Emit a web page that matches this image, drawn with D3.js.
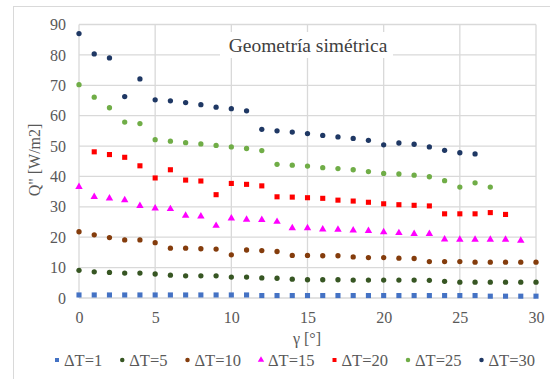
<!DOCTYPE html>
<html>
<head>
<meta charset="utf-8">
<script src="https://cdn.jsdelivr.net/npm/d3@7"></script>
<style>
  html, body { margin: 0; padding: 0; background: #fff; }
  svg { display: block; }
</style>
</head>
<body style="font-family: 'Times New Roman'">
<div id="chart" style="font-family: 'Times New Roman'"></div>
<script>
// γ [°] values (x positions)
const gamma = [0, 1, 2, 3, 4, 5, 6, 7, 8, 9, 10, 11, 12, 13, 14, 15, 16, 17, 18, 19, 20, 21, 22, 23, 24, 25, 26, 27, 28, 29, 30]

// Q" [W/m2] per ΔT, index = γ
const dt1 = [1.0, 1.0, 1.0, 1.0, 1.0, 1.0, 1.0, 1.0, 1.0, 1.0, 1.0, 1.0, 0.8, 0.8, 0.8, 0.8, 0.8, 0.8, 0.8, 0.8, 0.8, 0.8, 0.8, 0.8, 0.8, 0.8, 0.8, 0.6, 0.6, 0.6, 0.6]
const dt5 = [9.1, 8.6, 8.4, 8.2, 8.2, 7.9, 7.5, 7.3, 7.3, 7.3, 6.9, 6.9, 6.6, 6.5, 6.2, 6.0, 6.0, 6.0, 5.9, 5.9, 5.9, 5.9, 5.9, 5.8, 5.5, 5.2, 5.2, 5.2, 5.2, 5.2, 5.2]
const dt10 = [21.8, 20.8, 19.9, 19.1, 19.1, 18.2, 16.4, 16.4, 16.2, 16.1, 14.2, 15.8, 15.6, 15.3, 14.0, 14.0, 13.9, 13.9, 13.5, 13.3, 13.3, 13.1, 13.0, 12.0, 12.0, 12.0, 11.8, 11.8, 11.8, 11.8, 11.8]
const dt15 = [36.6, 33.3, 32.8, 32.2, 30.3, 29.5, 29.3, 27.1, 26.9, 23.8, 26.2, 25.8, 25.7, 25.1, 23.0, 23.0, 22.6, 22.5, 22.3, 22.1, 21.7, 21.4, 21.1, 21.1, 19.3, 19.2, 19.2, 19.2, 19.2, 18.9]
const dt20 = [null, 48.1, 47.2, 46.3, 43.5, 39.5, 42.2, 38.8, 38.5, 34.0, 37.7, 37.4, 36.9, 33.3, 33.2, 33.0, 32.8, 32.2, 31.9, 31.5, 31.0, 30.7, 30.5, 30.3, 27.7, 27.7, 27.7, 28.1, 27.5]
const dt25 = [70.2, 66.1, 62.6, 57.9, 57.4, 52.1, 51.6, 51.1, 50.7, 50.2, 49.7, 49.2, 48.5, 44.0, 43.7, 43.4, 42.9, 42.6, 42.2, 41.6, 41.0, 40.8, 40.4, 39.9, 38.6, 36.5, 37.9, 36.5]
const dt30 = [87.0, 80.3, 79.0, 66.3, 72.1, 65.2, 64.9, 64.3, 63.6, 62.8, 62.3, 61.6, 55.5, 55.0, 54.6, 54.1, 53.5, 53.0, 52.5, 51.9, 50.4, 51.0, 50.6, 49.7, 48.6, 47.8, 47.4]

const seriesNames = ['ΔT=1', 'ΔT=5', 'ΔT=10', 'ΔT=15', 'ΔT=20', 'ΔT=25', 'ΔT=30']
const seriesValues = [dt1, dt5, dt10, dt15, dt20, dt25, dt30]

const xTicks = [0, 5, 10, 15, 20, 25, 30]
const yTicks = [0, 10, 20, 30, 40, 50, 60, 70, 80, 90]

const width = 550
const height = 379
const margin = {left: 79, right: 14, top: 24.5, bottom: 81}
const face = 'Times New Roman'

const colors = ['#4472c4', '#375623', '#843c0c', '#ff00ff', '#ff0000', '#70ad47', '#1f3864']
const shapes = ['square', 'circle', 'circle', 'triangle', 'square', 'circle', 'circle']

const series = seriesNames.map((name, i) => ({
    name,
    color: colors[i],
    shape: shapes[i],
    points: seriesValues[i]
        .map((v, j) => ({g: gamma[j], v}))
        .filter(d => d.v !== null)
}))

const svg = d3.select('#chart').append('svg')
    .attr('width', width)
    .attr('height', height)
    .style('font-family', face)

// chart frame
svg.append('rect')
    .attr('x', 13.5).attr('y', 6.5)
    .attr('width', width + 10).attr('height', height + 10)
    .attr('fill', '#fff')
    .attr('stroke', '#d9d9d9')

const x = d3.scaleLinear().domain([0, 30]).range([margin.left, width - margin.right])
const y = d3.scaleLinear().domain([0, 90]).range([height - margin.bottom, margin.top])

// gridlines
const grid = svg.append('g').attr('stroke', '#d9d9d9').attr('stroke-width', 1.3)
grid.selectAll('.gy').data(yTicks).join('line')
    .attr('x1', x(0)).attr('x2', x(30))
    .attr('y1', d => y(d)).attr('y2', d => y(d))
grid.selectAll('.gx').data(xTicks).join('line')
    .attr('y1', y(0)).attr('y2', y(90))
    .attr('x1', d => x(d)).attr('x2', d => x(d))

// axes (labels only, no domain lines)
const xAxis = svg.append('g')
    .attr('transform', `translate(0,${y(0) + 8})`)
    .call(d3.axisBottom(x).tickValues(xTicks).tickSize(0).tickPadding(6))
const yAxis = svg.append('g')
    .attr('transform', `translate(${x(0) - 10},0)`)
    .call(d3.axisLeft(y).tickValues(yTicks).tickSize(0).tickPadding(3))
for (const ax of [xAxis, yAxis]) {
    ax.attr('font-family', face).attr('font-size', 16)
    ax.select('.domain').remove()
    ax.selectAll('text').attr('fill', '#595959').style('font-family', face)
}

// title with white box
svg.append('rect')
    .attr('x', 220).attr('y', 32).attr('width', 173).attr('height', 26)
    .attr('fill', '#fff')
svg.append('text')
    .attr('x', 308).attr('y', 52)
    .attr('text-anchor', 'middle')
    .attr('fill', '#404040')
    .style('font-family', face)
    .style('font-size', '19.5px')
    .text('Geometría simétrica')

// axis titles
svg.append('text')
    .attr('x', 307).attr('y', 344)
    .attr('text-anchor', 'middle')
    .attr('fill', '#595959')
    .style('font-family', face)
    .style('font-size', '16px')
    .text('γ [°]')
svg.append('text')
    .attr('transform', 'translate(40,160) rotate(-90)')
    .attr('text-anchor', 'middle')
    .attr('fill', '#595959')
    .style('font-family', face)
    .style('font-size', '16px')
    .text('Q" [W/m2]')

const symbolFor = (shape) => {
    if (shape === 'square') return d3.symbol(d3.symbolSquare, 26)
    if (shape === 'triangle') return d3.symbol(d3.symbolTriangle, 24)
    return d3.symbol(d3.symbolCircle, 22)
}

// points
const marks = svg.append('g')
series.forEach(s => {
    marks.append('g')
        .attr('fill', s.color)
        .selectAll('path')
        .data(s.points)
        .join('path')
        .attr('d', symbolFor(s.shape))
        .attr('transform', d => `translate(${x(d.g)},${y(d.v)})`)
})

// legend
const legend = svg.append('g').attr('transform', 'translate(0,360)')
let lx = 57
series.forEach(s => {
    const item = legend.append('g')
    item.append('path')
        .attr('d', symbolFor(s.shape).size(s.shape === 'triangle' ? 18 : 16))
        .attr('fill', s.color)
        .attr('transform', `translate(${lx},0)`)
    const t = item.append('text')
        .attr('x', lx + 7).attr('y', 5.5)
        .attr('fill', '#595959')
        .style('font-family', face)
        .style('font-size', '16.5px')
        .text(s.name)
    lx = lx + 7 + t.node().getComputedTextLength() + 20
})
</script>
</body>
</html>
